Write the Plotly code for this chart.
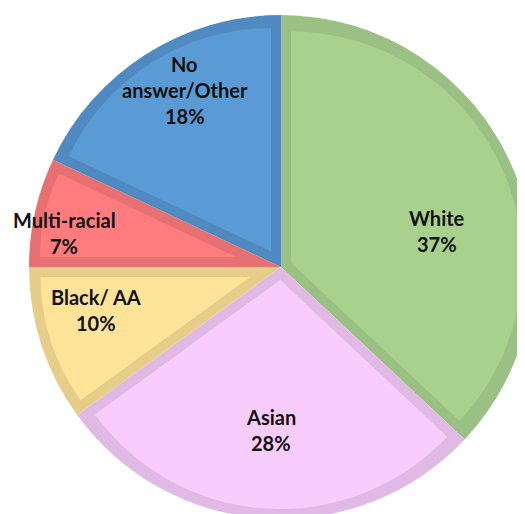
import math
import plotly.graph_objects as go

# ---- data ----
categories = ["White", "Asian", "Black/ AA", "Multi-racial", "No answer/Other"]
values = [37, 28, 10, 7, 18]
label_lines = {"No answer/Other": ["No", "answer/Other"]}

# ---- style ----
fill_colors = ["#A9D18E", "#F9CCFE", "#FFE398", "#FF7C7E", "#5B9BD5"]
border_colors = ["#9BC083", "#E1B9E5", "#E6CD89", "#E67072", "#518AC0"]

W, H = 525, 514
CX, CY, R = 273, 259, 252            # pie centre / radius in px (figure coords)
BORDER = 10                           # inner border width in px
FONT = dict(family="Lato", size=20, color="#111111", weight="bold")
LINE_GAP = 26
# label placement: (fraction of radius, angular nudge in degrees)
label_place = [(0.636, 10.4), (0.648, -0.2), (0.754, 4.9), (0.871, -3.7), (0.80, 3.9)]


def domain_for(radius):
    return dict(x=[(CX - radius) / W, (CX + radius) / W],
                y=[(H - CY - radius) / H, (H - CY + radius) / H])


common = dict(labels=categories, values=values, sort=False, direction="clockwise",
              rotation=0, textinfo="none", hoverinfo="skip", showlegend=False)

fig = go.Figure()
# base pie: border colours at full radius
fig.add_trace(go.Pie(domain=domain_for(R), marker=dict(colors=border_colors, line=dict(width=0)),
                     **common))

# inset fill for each slice (pull shifts the slice so its straight edges sit BORDER px inside)
total = sum(values)
inner = R - BORDER
for i, v in enumerate(values):
    half = math.pi * v / total
    shift = BORDER / math.sin(half) if half < math.pi / 2 else BORDER
    pull = [0] * len(values)
    pull[i] = shift / (inner - shift)
    colors = ["rgba(0,0,0,0)"] * len(values)
    colors[i] = fill_colors[i]
    fig.add_trace(go.Pie(domain=domain_for(inner), pull=pull,
                         marker=dict(colors=colors, line=dict(width=0)), **common))

# labels
annotations = []
cum = 0
for i, (cat, v) in enumerate(zip(categories, values)):
    mid = (cum + v / 2) / total * 360
    cum += v
    frac, nudge = label_place[i]
    ang = math.radians(mid + nudge)
    px = CX + frac * R * math.sin(ang)
    py = CY - frac * R * math.cos(ang)
    lines = label_lines.get(cat, [cat]) + [f"{v}%"]
    n = len(lines)
    for k, t in enumerate(lines):
        yy = py + (k - (n - 1) / 2) * LINE_GAP
        annotations.append(dict(x=px / W, y=(H - yy) / H, xref="paper", yref="paper",
                                text=t, showarrow=False, xanchor="center", yanchor="middle",
                                font=FONT))

fig.update_layout(width=W, height=H, margin=dict(l=0, r=0, t=0, b=0),
                  paper_bgcolor="white", plot_bgcolor="white", annotations=annotations)

fig.write_html("out.html")
